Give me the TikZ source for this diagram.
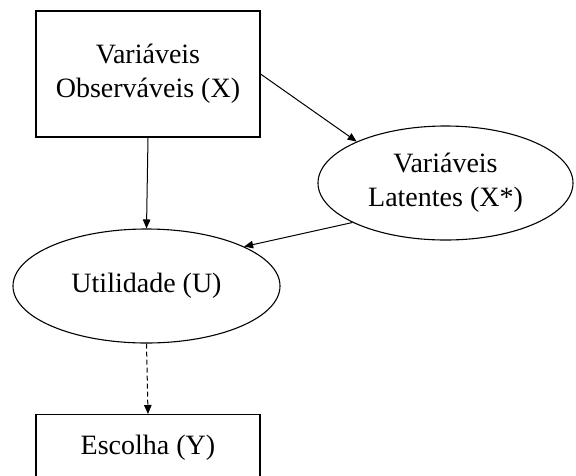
\documentclass[tikz,border=0pt]{standalone}
\usepackage{fontspec}
\setmainfont{Liberation Serif}
\usetikzlibrary{shapes.geometric,arrows.meta}
\begin{document}
\begin{tikzpicture}[x=1pt,y=-1pt,
  every node/.style={font=\fontsize{28}{34}\selectfont, align=center, inner sep=0pt},
  boxnode/.style={draw, line width=1.1pt, rectangle},
  ovalnode/.style={draw, line width=1.1pt, ellipse},
  link/.style={line width=1pt, -{Triangle[length=9pt,width=7.5pt]}},
  dlink/.style={link, dash pattern=on 5pt off 3pt}]
\useasboundingbox (0,0) rectangle (576,475);
\clip (0,0) rectangle (576,475);
% nodes
\node[boxnode, minimum width=224pt, minimum height=126pt] (obs) at (148,74) {Variáveis\\Observáveis (X)};
\node[ovalnode, minimum width=255pt, minimum height=114pt] (lat) at (445.5,183) {Variáveis\\Latentes (X*)};
\node[ovalnode, minimum width=267pt, minimum height=114pt] (util) at (146.5,286) {Utilidade (U)};
\node[boxnode, minimum width=224pt, minimum height=80pt, anchor=north] (esc) at (148,414) {};
\node (esclabel) at (148,448) {Escolha (Y)};
% connectors
\draw[link] (obs.east) -- (lat.155.9);
\draw[link] (obs.south) -- (util.north);
\draw[link] (lat.203.4) -- (util.22.2);
\draw[dlink] (util.south) -- (esc.north);
\end{tikzpicture}
\end{document}
